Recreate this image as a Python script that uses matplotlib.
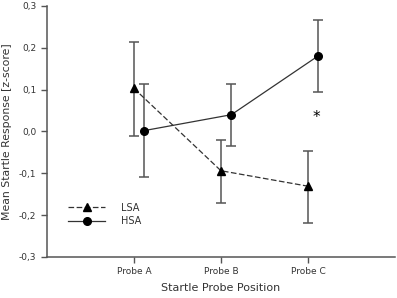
import numpy as np
import matplotlib.pyplot as plt

probes = ["Probe A", "Probe B", "Probe C"]
lsa = [0.103, -0.094, -0.131]
lsa_up = [0.213, -0.020, -0.046]
lsa_lo = [-0.010, -0.170, -0.220]
hsa = [0.002, 0.040, 0.181]
hsa_up = [0.113, 0.113, 0.266]
hsa_lo = [-0.110, -0.034, 0.094]
yticks = [-0.3, -0.2, -0.1, 0.0, 0.1, 0.2, 0.3]

grey = "#555555"
txt = "#333333"

fig = plt.figure(figsize=(3.97, 2.98), dpi=100)
ax = fig.add_axes([0.118, 0.138, 0.877, 0.842])

x = np.arange(1, 4)
lsa = np.array(lsa); hsa = np.array(hsa)
lsa_err = [lsa - np.array(lsa_lo), np.array(lsa_up) - lsa]
hsa_err = [hsa - np.array(hsa_lo), np.array(hsa_up) - hsa]

ax.errorbar(x, lsa, yerr=lsa_err, fmt="none", ecolor=grey, elinewidth=1.1,
            capsize=3.3, capthick=1.1)
ax.errorbar(x + 0.12, hsa, yerr=hsa_err, fmt="none", ecolor=grey, elinewidth=1.1,
            capsize=3.3, capthick=1.1)
ax.plot(x, lsa, color="#333333", lw=0.9, dashes=(4.5, 2), marker="^", ms=5.5,
        mfc="black", mec="black", label="LSA")
ax.plot(x + 0.12, hsa, color="#333333", lw=0.9, marker="o", ms=5.5,
        mfc="black", mec="black", label="HSA")

ax.text(3.1, 0.033, "*", ha="center", va="center", fontsize=11, color="black")

ax.set_xlim(0, 4)
ax.set_ylim(-0.3, 0.3)
ax.set_xticks(x)
ax.set_xticklabels(probes)
ax.set_yticks(yticks)
ax.set_yticklabels([f"{v:.1f}".replace(".", ",") for v in yticks])
ax.tick_params(colors=grey, labelcolor=txt, labelsize=6.5, length=4, width=1)
for s in ["top", "right"]:
    ax.spines[s].set_visible(False)
for s in ["left", "bottom"]:
    ax.spines[s].set_color(grey)
    ax.spines[s].set_linewidth(1.1)

ax.set_xlabel("Startle Probe Position", fontsize=8, color=txt, labelpad=5)
ax.set_ylabel("Mean Startle Response [z-score]", fontsize=7.8, color=txt, labelpad=5)

ax.legend(loc="upper left", bbox_to_anchor=(0.037, 0.25), frameon=False,
          fontsize=7, handlelength=3.8, handletextpad=1.6, labelspacing=0.35,
          labelcolor=txt)

fig.savefig("out.png", dpi=100)
